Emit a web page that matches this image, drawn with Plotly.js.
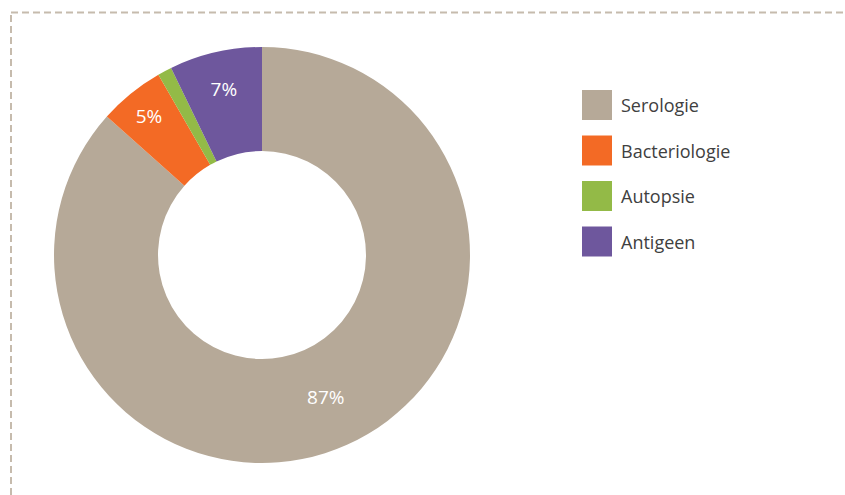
<!DOCTYPE html>
<html>
<head>
<meta charset="utf-8">
<script src="https://cdn.plot.ly/plotly-3.0.1.min.js"></script>
<style>
  html, body { margin: 0; padding: 0; background: #ffffff; }
  #chart { width: 845px; height: 495px; }
</style>
</head>
<body>
<div id="chart"></div>
<script>
const categories = ['Serologie', 'Bacteriologie', 'Autopsie', 'Antigeen'];
const values = [86.6, 5.1, 1.1, 7.2];
const sliceColors = ['#B6A998', '#F36A25', '#93BA47', '#6E579D'];
const labelTemplates = ['%{percent:.0%}', '%{percent:.0%}', '', '%{percent:.0%}'];

const W = 845, H = 495;
const cx = 262, cy = 255, R = 208;

const trace = {
  type: 'pie',
  labels: categories,
  values: values,
  sort: false,
  direction: 'clockwise',
  rotation: 0,
  hole: 0.5,
  marker: { colors: sliceColors, line: { color: '#ffffff', width: 0 } },
  texttemplate: labelTemplates,
  textposition: 'inside',
  insidetextorientation: 'horizontal',
  textfont: { family: 'Open Sans, sans-serif', size: 19, color: '#ffffff' },
  hoverinfo: 'none',
  domain: {
    x: [(cx - R) / W, (cx + R) / W],
    y: [(H - cy - R) / H, (H - cy + R) / H]
  }
};

const layout = {
  width: W,
  height: H,
  margin: { l: 0, r: 0, t: 0, b: 0, autoexpand: false },
  paper_bgcolor: '#ffffff',
  uniformtext: { minsize: 19, mode: 'show' },
  showlegend: true,
  legend: {
    x: 582 / W, xanchor: 'left',
    y: 1 - 88 / H, yanchor: 'top',
    bgcolor: 'rgba(0,0,0,0)',
    font: { family: 'Open Sans, sans-serif', size: 18, color: '#404040' },
    itemwidth: 30
  },
  shapes: [
    { type: 'line', xref: 'paper', yref: 'paper',
      x0: 11 / W, x1: 1, y0: 1 - 12.5 / H, y1: 1 - 12.5 / H,
      line: { color: '#C6BBAD', width: 2, dash: '7px,4px' } },
    { type: 'line', xref: 'paper', yref: 'paper',
      x0: 11 / W, x1: 11 / W, y0: 0, y1: 1 - 12.5 / H,
      line: { color: '#C6BBAD', width: 2, dash: '7px,4px' } }
  ]
};

Plotly.newPlot('chart', [trace], layout, { displayModeBar: false, staticPlot: true }).then(function (gd) {
  const legend = gd.querySelector('g.legend');
  if (!legend) return;
  legend.setAttribute('transform', 'translate(582,105)');
  const sb = legend.querySelector('.scrollbox');
  if (sb) { sb.removeAttribute('clip-path'); sb.setAttribute('transform', 'translate(0,0)'); }
  const items = legend.querySelectorAll('g.traces');
  items.forEach(function (g, i) {
    g.setAttribute('transform', 'translate(0,' + (i * 45.5) + ')');
    g.querySelectorAll('path.legendpie').forEach(function (p) {
      p.setAttribute('d', 'M15,15H-15V-15H15Z');
      p.setAttribute('transform', 'translate(15,0)');
    });
    const t = g.querySelector('text.legendtext');
    if (t) {
      t.setAttribute('x', 39);
      t.querySelectorAll('tspan').forEach(function (ts) { if (ts.hasAttribute('x')) ts.setAttribute('x', 39); });
    }
  });
});
</script>
</body>
</html>
